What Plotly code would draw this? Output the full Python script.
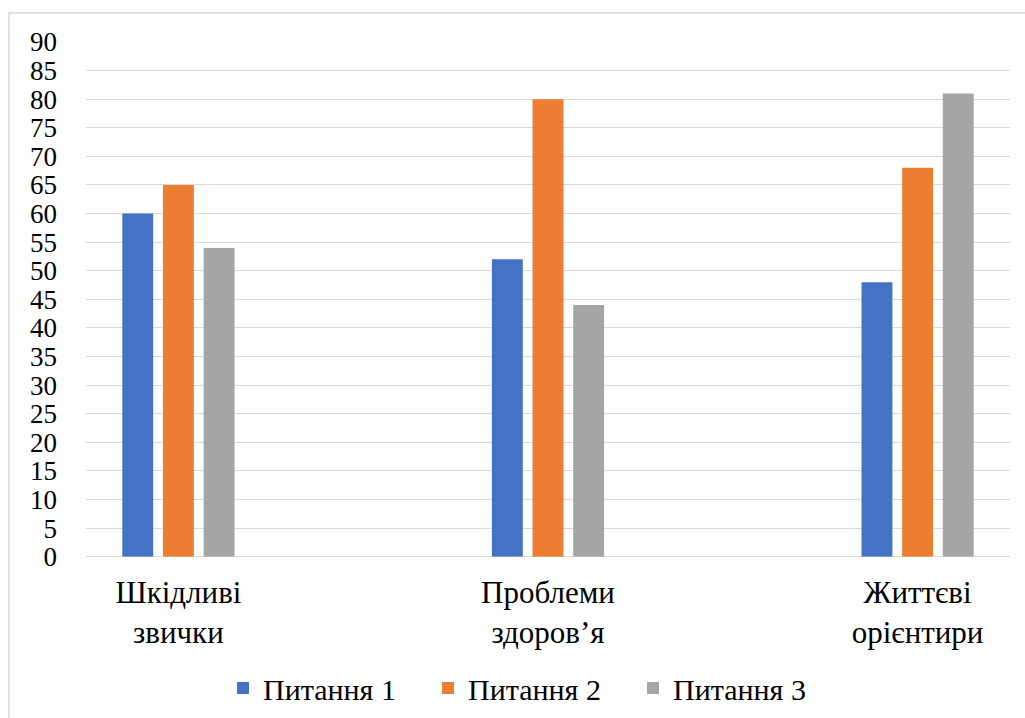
import plotly.graph_objects as go

categories = ["Шкідливі звички", "Проблеми здоров’я", "Життєві орієнтири"]
category_labels = ["Шкідливі<br>звички", "Проблеми<br>здоров’я", "Життєві<br>орієнтири"]
series_names = ["Питання 1", "Питання 2", "Питання 3"]
q1 = [60, 52, 48]
q2 = [65, 80, 68]
q3 = [54, 44, 81]
colors = ["#4472C4", "#ED7D31", "#A5A5A5"]
y_ticks = list(range(0, 95, 5))

FONT = "Liberation Serif, Times New Roman, serif"

fig = go.Figure()
for name, vals, col in zip(series_names, [q1, q2, q3], colors):
    fig.add_trace(go.Bar(x=list(range(len(categories))), y=vals, name=name,
                         marker=dict(color=col, line=dict(width=0))))

fig.update_layout(
    width=1025, height=718, autosize=False,
    margin=dict(l=86, r=15, t=42, b=160),
    paper_bgcolor="white", plot_bgcolor="white",
    barmode="group", bargap=0.67, bargroupgap=0.24,
    font=dict(family=FONT, color="black"),
    showlegend=True,
    legend=dict(orientation="h", x=223/1025, xref="container", xanchor="left",
                y=30/718, yref="container", yanchor="middle",
                font=dict(family=FONT, size=30, color="black"),
                itemwidth=30, entrywidth=160, entrywidthmode="pixels",
                traceorder="normal"),
    xaxis=dict(range=[-0.25, 2.25], tickmode="array",
               tickvals=list(range(len(categories))), ticktext=category_labels,
               showgrid=False, zeroline=False, showline=False, ticks="",
               tickfont=dict(family=FONT, size=31, color="black"),
               ticklabelstandoff=14, fixedrange=True),
    yaxis=dict(range=[0, 90], tickmode="array", tickvals=y_ticks,
               showgrid=True, gridcolor="#d9d9d9", gridwidth=1.3,
               zeroline=True, zerolinecolor="#d9d9d9", zerolinewidth=1.3,
               showline=False, ticks="",
               tickfont=dict(family=FONT, size=27, color="black"),
               ticklabelstandoff=28, fixedrange=True),
    shapes=[dict(type="rect", xref="paper", yref="paper",
                 x0=(9-86)/924, x1=1.1, y0=-0.4, y1=(558-13)/516,
                 line=dict(color="#d9d9d9", width=1.5), fillcolor="rgba(0,0,0,0)",
                 layer="below")],
)

fig.write_html("out.html")
